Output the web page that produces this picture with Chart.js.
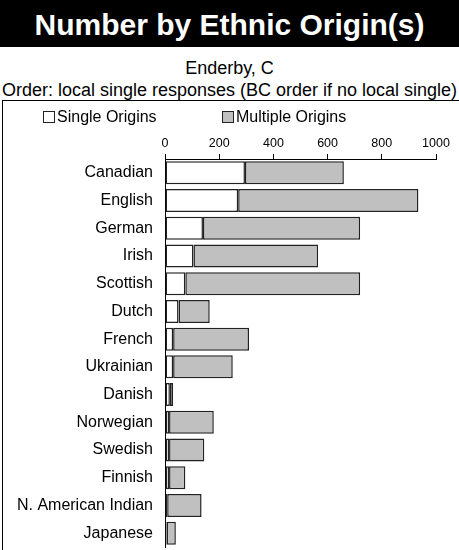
<!DOCTYPE html>
<html>
<head>
<meta charset="utf-8">
<script src="https://cdn.jsdelivr.net/npm/chart.js@4"></script>
<style>
  body { margin: 0; background: #fff; font-family: "Liberation Sans", Arial, sans-serif; }
  #page { position: relative; width: 459px; height: 550px; overflow: hidden; }
  #title {
    position: absolute; left: 0; top: 0; width: 459px; height: 47px;
    background: #000; color: #fff; font-weight: bold; font-size: 30px;
    text-align: center; line-height: 50px;
  }
  #sub1 { position: absolute; left: 0; top: 57px; width: 459px; text-align: center; font-size: 18px; line-height: 22px; }
  #sub2 { position: absolute; left: 0; top: 79px; width: 459px; text-align: center; font-size: 18px; line-height: 22px; white-space: nowrap; }
  #box {
    position: absolute; left: 2px; top: 100px; width: 457px; height: 450px;
    border-top: 1px solid #000; border-left: 1px solid #000; box-sizing: border-box;
  }
  #box canvas { display: block; }
  .leg { position: absolute; top: 108px; font-size: 16px; line-height: 18px; white-space: nowrap; }
  .leg span.sq { display: inline-block; width: 10px; height: 10px; border: 1px solid #222; vertical-align: -1px; margin-right: 2px; }
</style>
</head>
<body>
<div id="page">
  <div id="title">Number by Ethnic Origin(s)</div>
  <div id="sub1">Enderby, C</div>
  <div id="sub2">Order: local single responses (BC order if no local single)</div>
  <div id="box"><canvas id="chart" width="456" height="449"></canvas></div>
  <div id="legend"></div>
</div>
<script>
const origins = ["Canadian", "English", "German", "Irish", "Scottish", "Dutch", "French",
  "Ukrainian", "Danish", "Norwegian", "Swedish", "Finnish", "N. American Indian", "Japanese"];
const singleOrigins = [295, 270, 140, 105, 75, 50, 30, 30, 18, 15, 15, 15, 8, 6];
const multipleOrigins = [365, 665, 580, 460, 645, 115, 280, 220, 12, 165, 130, 60, 127, 34];
const xTicks = [0, 200, 400, 600, 800, 1000];

const ctx = document.getElementById("chart").getContext("2d");
const chart = new Chart(ctx, {
  type: 'bar',
  data: {
    labels: origins,
    datasets: [
      {
        label: 'Single Origins',
        data: singleOrigins,
        backgroundColor: '#ffffff',
        borderColor: '#222222',
        borderWidth: 1.5,
        borderSkipped: false
      },
      {
        label: 'Multiple Origins',
        data: multipleOrigins,
        backgroundColor: '#c0c0c0',
        borderColor: '#222222',
        borderWidth: 1.5,
        borderSkipped: false
      }
    ]
  },
  options: {
    indexAxis: 'y',
    responsive: false,
    animation: false,
    categoryPercentage: 1,
    barPercentage: 0.83,
    layout: { padding: { top: 32, right: 23, bottom: 3, left: 0 } },
    plugins: {
      legend: { display: false },
      tooltip: { enabled: false }
    },
    scales: {
      x: {
        position: 'top',
        stacked: true,
        min: 0,
        max: 1000,
        afterBuildTicks: (axis) => { axis.ticks = xTicks.map(v => ({ value: v })); },
        ticks: { color: '#000', padding: 3, callback: (v) => String(v), font: { family: 'Liberation Sans', size: 12.5 } },
        grid: { drawOnChartArea: false, drawTicks: true, tickLength: 5, color: '#000' },
        border: { display: true, color: '#000', width: 1 }
      },
      y: {
        stacked: true,
        afterFit: (axis) => {
          axis.width = 162;
          axis.paddingTop = 0;
          axis.paddingBottom = 0;
        },
        ticks: { color: '#000', padding: 12, font: { family: 'Liberation Sans', size: 16 } },
        grid: { display: false, drawTicks: false },
        border: { display: true, color: '#000', width: 1 }
      }
    }
  }
});

// HTML legend built from the datasets
const legendX = [43, 222];
document.getElementById("legend").innerHTML = chart.data.datasets.map((ds, i) =>
  `<div class="leg" style="left:${legendX[i]}px"><span class="sq" style="background:${ds.backgroundColor}"></span>${ds.label}</div>`
).join('');
</script>
</body>
</html>
